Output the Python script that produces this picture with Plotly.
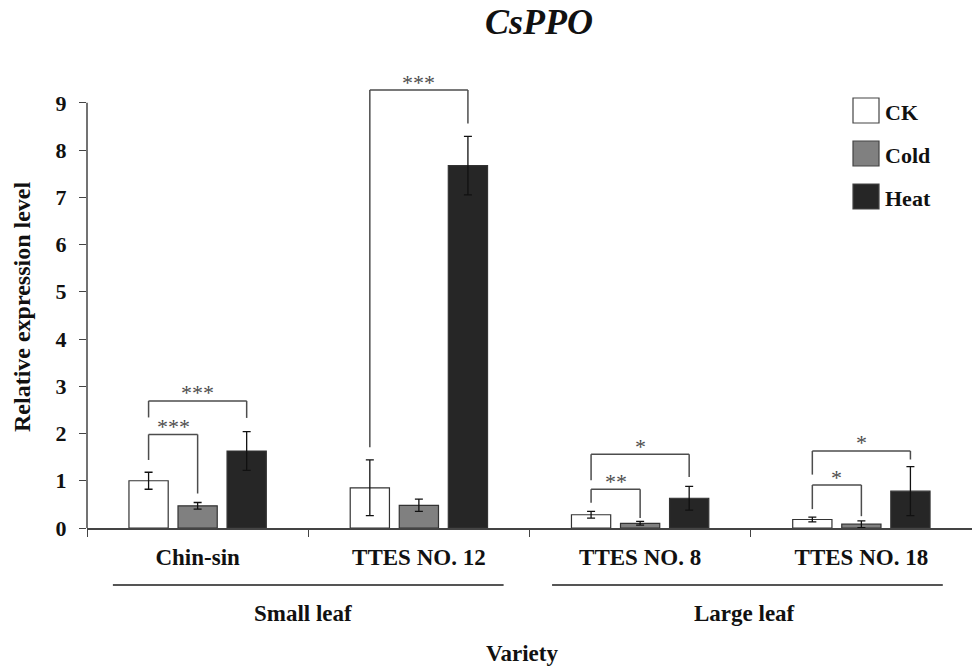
import plotly.graph_objects as go

# ---------------- data ----------------
categories = ["Chin-sin", "TTES NO. 12", "TTES NO. 8", "TTES NO. 18"]
series_names = ["CK", "Cold", "Heat"]

ck_values = [1.00, 0.85, 0.28, 0.18]
ck_errors = [0.18, 0.59, 0.07, 0.05]
cold_values = [0.47, 0.48, 0.10, 0.08]
cold_errors = [0.07, 0.13, 0.04, 0.07]
heat_values = [1.63, 7.67, 0.63, 0.78]
heat_errors = [0.41, 0.62, 0.25, 0.52]

y_tick_values = [0, 1, 2, 3, 4, 5, 6, 7, 8, 9]

# significance brackets (group index, series from, series to, top, left leg end, right leg end, label)
bracket_group = [0, 0, 1, 2, 2, 3, 3]
bracket_from = [0, 0, 0, 0, 0, 0, 0]
bracket_to = [1, 2, 2, 1, 2, 1, 2]
bracket_top = [1.98, 2.69, 9.27, 0.82, 1.56, 0.91, 1.63]
bracket_left_end = [1.44, 2.34, 1.71, 0.535, 1.01, 0.40, 1.13]
bracket_right_end = [0.73, 2.33, 8.56, 0.21, 1.08, 0.25, 1.45]
bracket_label = ["***", "***", "***", "**", "*", "*", "*"]

group_names = ["Small leaf", "Large leaf"]
group_line_centers = [0.50, 2.485]
group_label_centers = [0.475, 2.47]

# ---------------- styles ----------------
FONT = "Liberation Serif"
colors = ["#ffffff", "#808080", "#262626"]
W, H = 972, 666
ML, MR, MT, MB = 87, 0, 65, 138
BARGAP = 0.335
BARGROUPGAP = 0.2
AXIS_COLOR = "#444444"

values = [ck_values, cold_values, heat_values]
errors = [ck_errors, cold_errors, heat_errors]

fig = go.Figure()
for name, vals, errs, col in zip(series_names, values, errors, colors):
    fig.add_trace(go.Bar(
        x=categories, y=vals, name=name,
        marker=dict(color=col, line=dict(color="#333333", width=1.2)),
        error_y=dict(type="data", array=errs, color="#111111", thickness=1.3, width=4),
        showlegend=False,
    ))

plot_h = H - MT - MB
plot_w = W - ML - MR


def py_to_paper(py):
    return (H - MB - py) / plot_h


def px_to_paper(px):
    return (px - ML) / plot_w


shapes = []
annotations = []

# y axis line (from 0 to 9 only)
shapes.append(dict(type="line", xref="paper", yref="y", x0=0, x1=0, y0=0, y1=max(y_tick_values),
                   line=dict(color=AXIS_COLOR, width=1.5)))

# significance brackets
slot = (1 - BARGAP) / len(series_names)
for g, a, b, top, le, re, lab in zip(bracket_group, bracket_from, bracket_to, bracket_top,
                                       bracket_left_end, bracket_right_end, bracket_label):
    xa = g + (a - 1) * slot
    xb = g + (b - 1) * slot
    lc = dict(color="#4d4d4d", width=1.5)
    shapes.append(dict(type="line", xref="x", yref="y", x0=xa, x1=xa, y0=le, y1=top, line=lc))
    shapes.append(dict(type="line", xref="x", yref="y", x0=xa, x1=xb, y0=top, y1=top, line=lc))
    shapes.append(dict(type="line", xref="x", yref="y", x0=xb, x1=xb, y0=re, y1=top, line=lc))
    annotations.append(dict(xref="x", yref="y", x=(xa + xb) / 2, y=top, text=lab, showarrow=False,
                            yanchor="middle", xanchor="center", yshift=8,
                            font=dict(family=FONT, size=22, color="#4d4d4d")))

# group lines and labels
for name, lc_, tc in zip(group_names, group_line_centers, group_label_centers):
    shapes.append(dict(type="line", xref="x", yref="paper", x0=lc_ - 0.883, x1=lc_ + 0.883,
                       y0=py_to_paper(585), y1=py_to_paper(585),
                       line=dict(color="#555555", width=1.8)))
    annotations.append(dict(xref="x", yref="paper", x=tc, y=py_to_paper(613), text=name,
                            showarrow=False, xanchor="center", yanchor="middle",
                            font=dict(family=FONT, size=23, color="#111111", weight="bold")))

# x axis title
annotations.append(dict(xref="paper", yref="paper", x=px_to_paper(522), y=py_to_paper(653),
                        text="Variety", showarrow=False, xanchor="center", yanchor="middle",
                        font=dict(family=FONT, size=23, color="#111111", weight="bold")))
# y axis title
annotations.append(dict(xref="paper", yref="paper", x=px_to_paper(22), y=py_to_paper(307),
                        text="Relative expression level", showarrow=False, textangle=-90,
                        xanchor="center", yanchor="middle",
                        font=dict(family=FONT, size=24, color="#111111", weight="bold")))

# custom legend
for i, (name, col) in enumerate(zip(series_names, colors)):
    top = 98 + 43 * i
    shapes.append(dict(type="rect", xref="paper", yref="paper",
                       x0=px_to_paper(853), x1=px_to_paper(879),
                       y0=py_to_paper(top + 25), y1=py_to_paper(top),
                       fillcolor=col, line=dict(color="#444444", width=1.2)))
    annotations.append(dict(xref="paper", yref="paper", x=px_to_paper(883), y=py_to_paper(top + 14),
                            text=name, showarrow=False, xanchor="left", yanchor="middle",
                            font=dict(family=FONT, size=22, color="#111111", weight="bold")))

fig.update_layout(
    width=W, height=H,
    margin=dict(l=ML, r=MR, t=MT, b=MB, pad=0),
    paper_bgcolor="white", plot_bgcolor="white",
    barmode="group", bargap=BARGAP, bargroupgap=BARGROUPGAP,
    title=dict(text="<i>CsPPO</i>", x=539 / W, xanchor="center", y=1 - 21 / H, yanchor="middle",
               font=dict(family=FONT, size=36, color="#111111", weight="bold")),
    xaxis=dict(type="category", range=[-0.5, 3.5], showline=True, linecolor=AXIS_COLOR, linewidth=1.5,
               ticks="outside", tickson="boundaries", ticklen=7, tickcolor=AXIS_COLOR, tickwidth=1.2,
               showgrid=False, zeroline=False, ticklabelstandoff=8,
               tickfont=dict(family=FONT, size=23, color="#111111", weight="bold")),
    yaxis=dict(range=[0, 9.8], tickvals=y_tick_values, ticks="outside", ticklen=7,
               tickcolor=AXIS_COLOR, tickwidth=1.2, showline=False, showgrid=False, zeroline=False,
               ticklabelstandoff=8,
               tickfont=dict(family=FONT, size=22, color="#111111", weight="bold")),
    shapes=shapes, annotations=annotations,
)

fig.write_html("out.html", config={"displayModeBar": False},
               post_script="document.body.style.margin='0';document.body.style.overflow='hidden';")
